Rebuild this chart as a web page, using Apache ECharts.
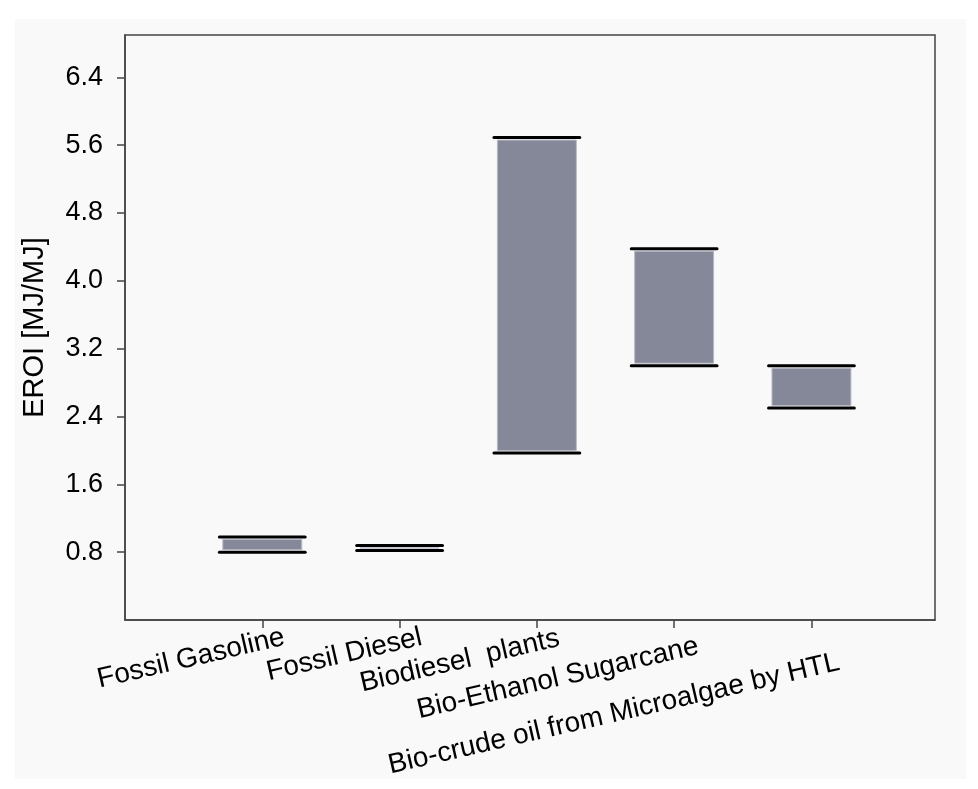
<!DOCTYPE html>
<html>
<head>
<meta charset="utf-8">
<script src="https://cdn.jsdelivr.net/npm/echarts@6/dist/echarts.min.js"></script>
<style>
  body { margin: 0; background: #fff; }
  #main { position: absolute; left: 15px; top: 19px; width: 951px; height: 760px; background: #f9f9f9; }
</style>
</head>
<body>
<div id="main"></div>
<script>
// EROI ranges per fuel
var categories = ['Fossil Gasoline', 'Fossil Diesel', 'Biodiesel  plants', 'Bio-Ethanol Sugarcane', 'Bio-crude oil from Microalgae by HTL'];
var lowValues = [0.80, 0.82, 1.97, 3.00, 2.50];
var highValues = [0.98, 0.88, 5.69, 4.38, 3.00];
var yTicks = [0.8, 1.6, 2.4, 3.2, 4.0, 4.8, 5.6, 6.4];
var xTicks = [1, 2, 3, 4, 5];

var font = "'Liberation Sans', Arial, sans-serif";
var labelSize = 28;
var labelShift = 0.16;

// longer labels sit lower, as in the original figure
var ctx = document.createElement('canvas').getContext('2d');
ctx.font = labelSize + 'px ' + font;
var baseW = ctx.measureText(categories[0]).width;
var rich = {};
categories.forEach(function (c, i) {
    var drop = Math.max(0, 0.095 * (ctx.measureText(c).width - baseW));
    rich['l' + i] = { fontSize: labelSize, fontFamily: font, color: '#000', padding: [drop * 2, 0, 0, 0] };
});

var myChart = echarts.init(document.getElementById('main'));

var seriesData = [];
for (var i = 0; i < categories.length; i++) {
    seriesData.push([i + 1, lowValues[i], highValues[i]]);
}

function renderRange(params, api) {
    var x = api.value(0);
    var pLo = api.coord([x, api.value(1)]);
    var pHi = api.coord([x, api.value(2)]);
    var unit = api.size([1, 0])[0];
    var lineW = unit * 0.625;
    var boxW = unit * 0.575;
    var h = Math.max(0, pLo[1] - pHi[1] - 5);
    return {
        type: 'group',
        children: [
            {
                type: 'rect',
                shape: { x: pLo[0] - boxW / 2, y: pHi[1] + 2.5, width: boxW, height: h },
                style: { fill: '#848899', stroke: '#b8b9c6', lineWidth: 1 }
            },
            {
                type: 'line',
                shape: { x1: pHi[0] - lineW / 2, y1: pHi[1], x2: pHi[0] + lineW / 2, y2: pHi[1] },
                style: { stroke: '#000', lineWidth: 3, lineCap: 'round' }
            },
            {
                type: 'line',
                shape: { x1: pLo[0] - lineW / 2, y1: pLo[1], x2: pLo[0] + lineW / 2, y2: pLo[1] },
                style: { stroke: '#000', lineWidth: 3, lineCap: 'round' }
            }
        ]
    };
}

var option = {
    animation: false,
    grid: {
        left: 110, right: 31, top: 16, bottom: 159,
        outerBoundsMode: 'none',
        containLabel: false,
        show: true,
        borderColor: '#444',
        borderWidth: 1.5,
        backgroundColor: 'transparent'
    },
    xAxis: {
        type: 'value',
        min: 0,
        max: 5.9,
        splitLine: { show: false },
        axisLine: { show: true, lineStyle: { color: '#444', width: 1.5 } },
        axisTick: { show: true, length: 8, customValues: xTicks, lineStyle: { color: '#444', width: 1.5 } },
        axisLabel: {
            customValues: xTicks.map(function (v) { return v + labelShift; }),
            rotate: 13,
            margin: 17,
            hideOverlap: false,
            fontSize: labelSize,
            fontFamily: font,
            color: '#000',
            rich: rich,
            formatter: function (v) {
                var i = Math.round(v - labelShift) - 1;
                return '{l' + i + '|' + categories[i] + '}';
            }
        }
    },
    yAxis: {
        type: 'value',
        min: 0,
        max: 6.9,
        name: 'EROI [MJ/MJ]',
        nameLocation: 'middle',
        nameGap: 76,
        nameTextStyle: { fontSize: 29, fontFamily: font, color: '#000' },
        splitLine: { show: false },
        axisLine: { show: true, lineStyle: { color: '#444', width: 1.5 } },
        axisTick: { show: true, length: 8, customValues: yTicks, lineStyle: { color: '#444', width: 1.5 } },
        axisLabel: {
            customValues: yTicks,
            margin: 22,
            fontSize: 27,
            fontFamily: font,
            color: '#000',
            formatter: function (v) { return v.toFixed(1); }
        }
    },
    series: [
        {
            type: 'custom',
            renderItem: renderRange,
            encode: { x: 0, y: [1, 2] },
            data: seriesData
        }
    ]
};
myChart.setOption(option);
</script>
</body>
</html>
